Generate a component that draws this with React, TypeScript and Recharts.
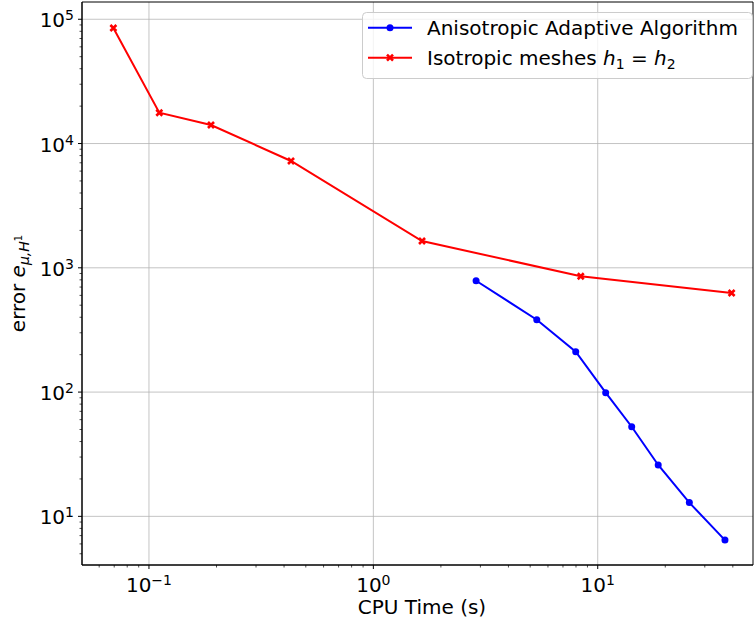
import React from 'react'
import {
  LineChart, Line, XAxis, YAxis, CartesianGrid, ReferenceArea,
} from 'recharts'

// CPU time (s) vs. H1 error, both on log scales
const cpuAniso = [2.87, 5.35, 7.98, 10.85, 14.17, 18.6, 25.6, 36.9]
const errAniso = [787, 382, 211, 98.9, 52.6, 25.9, 12.9, 6.44]
const cpuIso = [0.0694, 0.1112, 0.189, 0.4297, 1.648, 8.4, 39.5]
const errIso = [85100, 17700, 14100, 7240, 1643, 855, 627]

const xDecades = [-1, 0, 1]
const yDecades = [1, 2, 3, 4, 5]
const X_DOMAIN: [number, number] = [0.0503, 49.2]
const Y_DOMAIN: [number, number] = [4.06, 137700]

const FONT = '"DejaVu Sans", sans-serif'
const BLUE = '#0000ff'
const RED = '#ff0000'

const aniso = cpuAniso.map((t, i) => ({ t, err: errAniso[i] }))
const iso = cpuIso.map((t, i) => ({ t, err: errIso[i] }))

// major + minor tick values inside a domain
function logTicks(domain: [number, number]) {
  const out: number[] = []
  const lo = Math.floor(Math.log10(domain[0]))
  const hi = Math.ceil(Math.log10(domain[1]))
  for (let e = lo; e <= hi; e++) {
    for (let m = 1; m <= 9; m++) {
      const v = m * Math.pow(10, e)
      if (v >= domain[0] && v <= domain[1]) out.push(v)
    }
  }
  return out
}

function exponentOf(v: number) {
  const e = Math.log10(v)
  return Math.abs(e - Math.round(e)) < 1e-6 ? Math.round(e) : null
}

const sup = (e: number) => (e < 0 ? '\u2212' + Math.abs(e) : String(e))

function XTick(props: any) {
  const { x, y, payload } = props
  const e = exponentOf(payload.value)
  return (
    <g>
      <line x1={x} x2={x} y1={y} y2={y + (e === null ? 2.5 : 4)} stroke="#000" strokeWidth={e === null ? 0.7 : 1} />
      {e !== null && (
        <text x={x} y={y + 27} textAnchor="middle" fontSize={20} fontFamily={FONT} fill="#000">
          <tspan>10</tspan>
          <tspan dy={-7} fontSize={14}>{sup(e)}</tspan>
        </text>
      )}
    </g>
  )
}

function YTick(props: any) {
  const { x, y, payload } = props
  const e = exponentOf(payload.value)
  return (
    <g>
      <line x1={x} x2={x - (e === null ? 2.5 : 4)} y1={y} y2={y} stroke="#000" strokeWidth={e === null ? 0.7 : 1} />
      {e !== null && (
        <text x={x - 8} y={y + 8} textAnchor="end" fontSize={20} fontFamily={FONT} fill="#000">
          <tspan>10</tspan>
          <tspan dy={-7} fontSize={14}>{sup(e)}</tspan>
        </text>
      )}
    </g>
  )
}

function CrossDot(props: any) {
  const { cx, cy, index } = props
  if (cx == null || cy == null) return <g key={index} />
  const s = 3
  return (
    <g key={index}>
      <path
        d={`M${cx - s},${cy - s}L${cx + s},${cy + s}M${cx - s},${cy + s}L${cx + s},${cy - s}`}
        stroke={RED}
        strokeWidth={2.6}
      />
    </g>
  )
}

export default function App() {
  return (
    <div style={{ position: 'absolute', left: 0, top: 0, width: 755, height: 626, background: '#fff' }}>
      <LineChart width={755} height={626} margin={{ top: 2, right: 2, left: 0, bottom: 0 }}>
        <CartesianGrid
          stroke="#b0b0b0"
          strokeOpacity={0.75}
          strokeWidth={1}
          verticalValues={xDecades.map(e => Math.pow(10, e))}
          horizontalValues={yDecades.map(e => Math.pow(10, e))}
        />
        <XAxis
          type="number"
          dataKey="t"
          scale="log"
          domain={X_DOMAIN}
          allowDataOverflow
          ticks={logTicks(X_DOMAIN)}
          interval={0}
          tickSize={0}
          tickMargin={0}
          tickLine={false}
          tick={<XTick />}
          axisLine={{ stroke: '#000' }}
          height={61}
        />
        <YAxis
          type="number"
          dataKey="err"
          scale="log"
          domain={Y_DOMAIN}
          allowDataOverflow
          ticks={logTicks(Y_DOMAIN)}
          interval={0}
          tickSize={0}
          tickMargin={0}
          tickLine={false}
          tick={<YTick />}
          axisLine={{ stroke: '#000' }}
          width={82}
        />
        <ReferenceArea
          x1={X_DOMAIN[0]}
          x2={X_DOMAIN[1]}
          y1={Y_DOMAIN[0]}
          y2={Y_DOMAIN[1]}
          fill="none"
          stroke="#000"
          strokeWidth={1}
        />
        <Line
          data={aniso}
          dataKey="err"
          stroke={BLUE}
          strokeWidth={2}
          dot={{ r: 3.5, fill: BLUE, stroke: BLUE, strokeWidth: 0 }}
          isAnimationActive={false}
        />
        <Line
          data={iso}
          dataKey="err"
          stroke={RED}
          strokeWidth={2}
          dot={CrossDot}
          isAnimationActive={false}
        />
      </LineChart>
      <svg
        width={755}
        height={626}
        style={{ position: 'absolute', left: 0, top: 0, pointerEvents: 'none' }}
        fontFamily={FONT}
      >
        <text x={422} y={614} textAnchor="middle" fontSize={20} fill="#000">CPU Time (s)</text>
        <text x={25} y={283.5} textAnchor="middle" fontSize={20} fill="#000" transform="rotate(-90, 25, 283.5)">
          <tspan>error </tspan>
          <tspan fontStyle="italic">e</tspan>
          <tspan fontStyle="italic" fontSize={14} dy={4}>μ,H</tspan>
          <tspan fontSize={10} dy={-7}>1</tspan>
        </text>
        <rect x={362.5} y={12.5} width={390} height={66} rx={4} fill="#fff" fillOpacity={0.8} stroke="#cccccc" />
        <line x1={368} x2={412} y1={27.7} y2={27.7} stroke={BLUE} strokeWidth={2} />
        <circle cx={390} cy={27.7} r={3.5} fill={BLUE} />
        <text x={427} y={35} fontSize={20} fill="#000">Anisotropic Adaptive Algorithm</text>
        <line x1={368} x2={412} y1={57.7} y2={57.7} stroke={RED} strokeWidth={2} />
        <CrossDot cx={390} cy={57.7} index="legend" />
        <text x={427} y={65} fontSize={20} fill="#000">
          <tspan>Isotropic meshes </tspan>
          <tspan fontStyle="italic">h</tspan>
          <tspan fontSize={14} dy={4}>1</tspan>
          <tspan dy={-4}> = </tspan>
          <tspan fontStyle="italic">h</tspan>
          <tspan fontSize={14} dy={4}>2</tspan>
        </text>
      </svg>
    </div>
  )
}
